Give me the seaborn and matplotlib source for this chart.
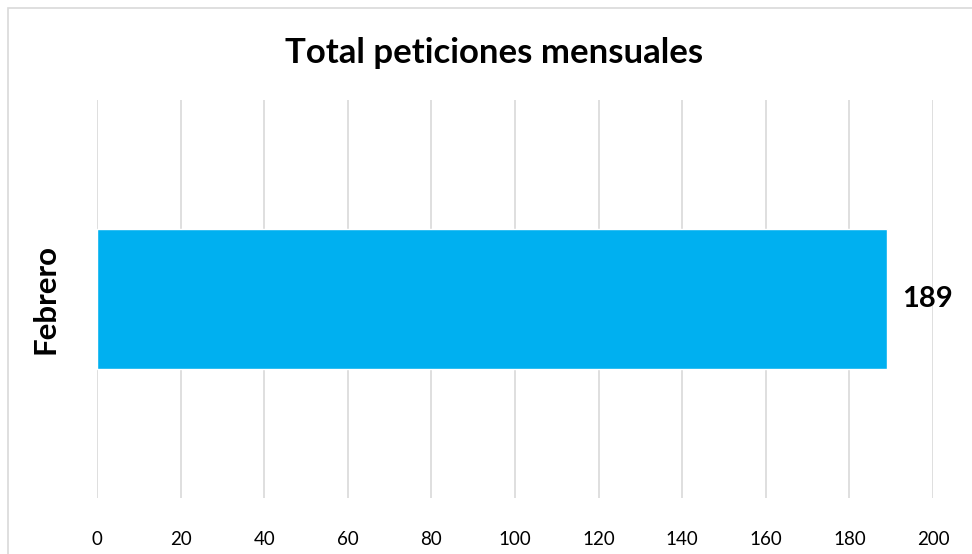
import matplotlib.pyplot as plt
import matplotlib.patches as mpatches
import seaborn as sns
import pandas as pd

sns.set_theme(style='white')
plt.rcParams['font.family'] = ['Lato', 'DejaVu Sans']
plt.rcParams['text.color'] = 'black'
plt.rcParams['xtick.color'] = 'black'
plt.rcParams['ytick.color'] = 'black'

# datos
meses = ['Febrero']
totales = [189]
x_ticks = [0, 20, 40, 60, 80, 100, 120, 140, 160, 180, 200]

df = pd.DataFrame({'mes': meses, 'total': totales})

fig = plt.figure(figsize=(9.72, 5.54), dpi=100)
ax = fig.add_axes([97 / 972, 1 - 498 / 554, (933 - 97) / 972, (498 - 100) / 554])

sns.barplot(data=df, x='total', y='mes', orient='h', color='#00B0F0',
            saturation=1, width=0.35, ax=ax, zorder=2)

ax.set_xlim(0, 200)
ax.set_ylim(0.5, -0.5)
ax.set_xticks(x_ticks)
ax.set_xticklabels([str(t) for t in x_ticks], fontsize=13.5, color='black')
ax.set_yticks([0])
ax.set_yticklabels(meses, rotation=90, va='center', color='black',
                   fontsize=22.5, fontweight='bold')
ax.tick_params(axis='x', length=0, pad=24)
ax.tick_params(axis='y', length=0, pad=27)
ax.set_xlabel('')
ax.set_ylabel('')

ax.grid(axis='x', color='#D9D9D9', linewidth=1.2, zorder=0)
ax.grid(axis='y', visible=False)
for s in ax.spines.values():
    s.set_visible(False)

ax.bar_label(ax.containers[0], padding=11, fontsize=21, fontweight='bold',
             color='black')

fig.text(0.508, 1 - 53 / 554, 'Total peticiones mensuales', ha='center',
         va='center', fontsize=25, fontweight='bold', color='black')

# marco del gráfico
borde = mpatches.Rectangle((8 / 972, -0.1), 1.1, 1 - 8 / 554 + 0.1,
                           transform=fig.transFigure, fill=False,
                           edgecolor='#D9D9D9', linewidth=1.2, clip_on=False)
fig.patches.append(borde)

fig.savefig('out.png', dpi=100)
